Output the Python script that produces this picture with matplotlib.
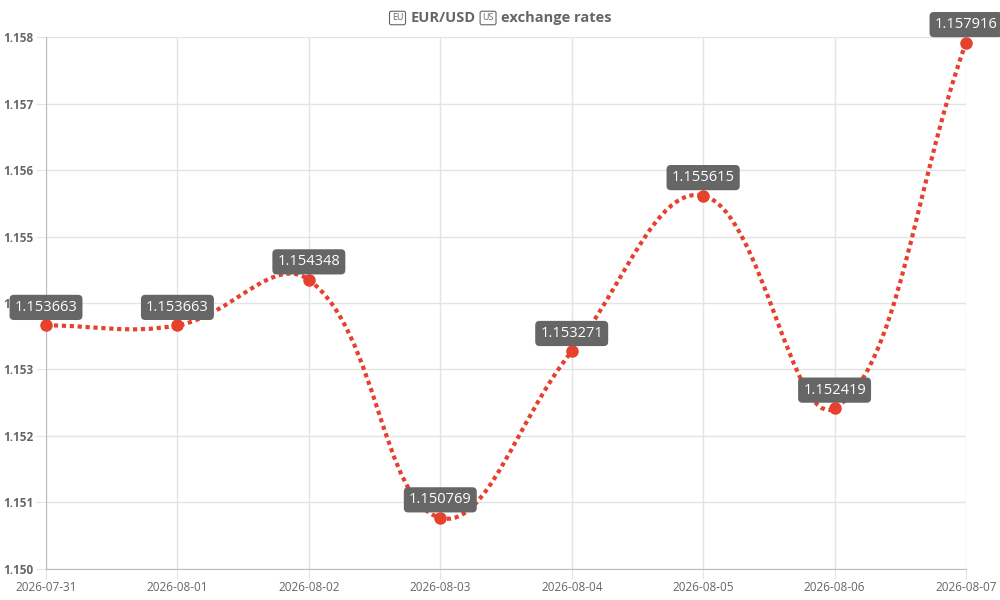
import matplotlib
matplotlib.use("Agg")
import matplotlib.pyplot as plt
import numpy as np
from matplotlib.path import Path
from matplotlib.patches import PathPatch

plt.rcParams["font.family"] = ["Open Sans", "DejaVu Sans"]

dates = ["2026-07-31", "2026-08-01", "2026-08-02", "2026-08-03",
         "2026-08-04", "2026-08-05", "2026-08-06", "2026-08-07"]
rates = [1.153663, 1.153663, 1.154348, 1.150769,
         1.153271, 1.155615, 1.152419, 1.157916]
y_ticks = [1.150, 1.151, 1.152, 1.153, 1.154, 1.155, 1.156, 1.157, 1.158]

LINE = "#e5412d"
GREY = "#666666"
GRID = "#e4e4e4"

fig = plt.figure(figsize=(10, 6), dpi=100)
ax = fig.add_axes([0.046, 0.0517, 0.92, 0.8866])
x = np.arange(len(dates))
ax.set_xlim(0, len(dates) - 1)
ax.set_ylim(y_ticks[0], y_ticks[-1])

ax.set_xticks(x)
ax.set_xticklabels(dates, fontsize=8.5, color=GREY)
ax.set_yticks(y_ticks)
ax.set_yticklabels([f"{v:.3f}" for v in y_ticks], fontsize=8.5,
                   color=GREY, fontweight="bold")
ax.grid(color=GRID, lw=1)
ax.tick_params(length=7, color=GRID, pad=2)
for s in ("top", "right"):
    ax.spines[s].set_visible(False)
for s in ("left", "bottom"):
    ax.spines[s].set_color("#bbbbbb")
ax.set_axisbelow(True)

# courbe lissée façon Chart.js (tension 0.4), points de contrôle en pixels
fig.canvas.draw()
pts = ax.transData.transform(np.column_stack([x, rates]))
t = 0.4
cps = []
for i, p in enumerate(pts):
    prev = pts[max(i - 1, 0)]
    nxt = pts[min(i + 1, len(pts) - 1)]
    d01 = np.hypot(*(p - prev))
    d12 = np.hypot(*(nxt - p))
    tot = d01 + d12
    s01 = d01 / tot if tot else 0
    s12 = d12 / tot if tot else 0
    cps.append((p - t * s01 * (nxt - prev), p + t * s12 * (nxt - prev)))
verts = [pts[0]]
codes = [Path.MOVETO]
for i in range(1, len(pts)):
    verts += [cps[i - 1][1], cps[i][0], pts[i]]
    codes += [Path.CURVE4] * 3
verts = ax.transData.inverted().transform(np.array(verts))
patch = PathPatch(Path(verts, codes), fill=False, edgecolor=LINE, lw=3,
                  linestyle=(0, (1.0, 0.9)), capstyle="butt", zorder=3)
ax.add_patch(patch)
ax.plot(x, rates, "o", color=LINE, ms=8, zorder=4, clip_on=False)

for xi, v in zip(x, rates):
    ax.annotate(f"{v:.6f}", (xi, v), xytext=(0, 18),
                textcoords="offset pixels", ha="center", va="center",
                fontsize=10.5, color="white", zorder=5, annotation_clip=False,
                bbox=dict(boxstyle="round,pad=0.35,rounding_size=0.3",
                          fc=GREY, ec="none"))

# titre avec les petits drapeaux encadrés
parts = [("EU", True), ("EUR/USD", False), ("US", True),
         ("exchange rates", False)]
gap = 4
r = fig.canvas.get_renderer()
objs = []
for txt, flag in parts:
    if flag:
        o = fig.text(0, 0.97, txt, fontsize=6.5, color=GREY, va="center",
                     bbox=dict(boxstyle="round,pad=0.25,rounding_size=0.2",
                               fc="none", ec=GREY, lw=0.8))
    else:
        o = fig.text(0, 0.97, txt, fontsize=10.5, color=GREY, va="center",
                     fontweight="bold")
    objs.append(o)
widths = [o.get_window_extent(r).width for o in objs]
pads = [3 if flag else 0 for _, flag in parts]
total = sum(widths) + sum(pads) * 2 + gap * (len(parts) - 1)
xpos = 500 - total / 2
for o, w, p in zip(objs, widths, pads):
    o.set_x((xpos + p) / 1000)
    xpos += w + 2 * p + gap

fig.savefig("out.png")
